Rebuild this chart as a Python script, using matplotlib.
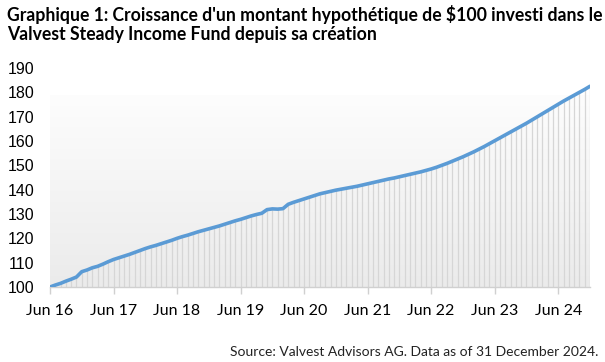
import numpy as np
import matplotlib
matplotlib.use("Agg")
import matplotlib.pyplot as plt

# monthly index values, Jun 2016 .. Dec 2024
values_2016 = [100.0, 100.8, 101.5, 102.4, 103.2, 104.1, 106.3]
values_2017 = [107.0, 107.9, 108.5, 109.4, 110.4, 111.3, 112.0, 112.7, 113.4, 114.2, 115.0, 115.8]
values_2018 = [116.5, 117.1, 117.8, 118.5, 119.2, 120.0, 120.7, 121.3, 122.0, 122.7, 123.3, 123.9]
values_2019 = [124.5, 125.1, 125.8, 126.5, 127.2, 127.8, 128.5, 129.2, 129.8, 130.3, 131.8, 132.1]
values_2020 = [132.0, 132.2, 134.0, 134.8, 135.5, 136.2, 136.9, 137.6, 138.3, 138.8, 139.3, 139.8]
values_2021 = [140.2, 140.6, 141.0, 141.4, 141.9, 142.4, 142.9, 143.4, 143.9, 144.4, 144.8, 145.3]
values_2022 = [145.8, 146.3, 146.8, 147.3, 147.9, 148.5, 149.2, 150.0, 150.8, 151.7, 152.6, 153.5]
values_2023 = [154.5, 155.5, 156.6, 157.7, 158.9, 160.1, 161.3, 162.5, 163.7, 164.9, 166.1, 167.3]
values_2024 = [168.6, 169.9, 171.2, 172.5, 173.8, 175.1, 176.4, 177.6, 178.8, 180.0, 181.2, 182.5]

values = (values_2016 + values_2017 + values_2018 + values_2019 + values_2020
          + values_2021 + values_2022 + values_2023 + values_2024)

tick_labels = ["Jun 16", "Jun 17", "Jun 18", "Jun 19", "Jun 20",
               "Jun 21", "Jun 22", "Jun 23", "Jun 24"]
y_ticks = [100, 110, 120, 130, 140, 150, 160, 170, 180, 190]

title = ("Graphique 1: Croissance d'un montant hypothétique de $100 investi dans le\n"
         "Valvest Steady Income Fund depuis sa création")
source = "Source: Valvest Advisors AG. Data as of 31 December 2024."

months = np.arange(len(values))

fig = plt.figure(figsize=(6.05, 3.62), dpi=100)
ax = fig.add_axes([50 / 605, 1 - 287 / 362, 540 / 605, 219 / 362])

# soft grey gradient behind the series
grad = np.linspace(0, 1, 256).reshape(-1, 1)
cmap = matplotlib.colors.LinearSegmentedColormap.from_list("bg", ["#ebebeb", "#fdfdfd"])
ax.imshow(grad, cmap=cmap, aspect="auto", origin="lower",
          extent=[months[0], months[-1], 100, 178.5], zorder=0)

# drop lines from each monthly point
ax.vlines(months, 100, values, color="#d6d6d6", linewidth=0.9, zorder=1)
ax.plot(months, values, color="#5b9bd5", linewidth=2.6, solid_capstyle="round", zorder=3)

ax.set_xlim(months[0], months[-1])
ax.set_ylim(100, 190)
ax.set_yticks(y_ticks)
ax.set_yticklabels([str(t) for t in y_ticks], family="Liberation Sans", fontsize=11.5)
ax.set_xticks(months[::12])
ax.set_xticklabels(tick_labels, family="Lato", fontsize=11.5)
ax.tick_params(axis="y", length=0, pad=11, colors="black")
ax.tick_params(axis="x", length=5, width=1, color="#d0d0d0", pad=7)

for side in ["top", "right", "left"]:
    ax.spines[side].set_visible(False)
ax.spines["bottom"].set_color("#d0d0d0")
ax.spines["bottom"].set_linewidth(1)
ax.patch.set_visible(False)

fig.text(7 / 605, 1 - 5 / 362, title, ha="left", va="top", family="Lato",
         fontweight="bold", fontsize=12.7, linespacing=1.12)
fig.text(598 / 605, 1 - 352 / 362, source, ha="right", va="center",
         family="Lato", fontsize=10, color="#222222")

fig.savefig("out.png", dpi=100)
